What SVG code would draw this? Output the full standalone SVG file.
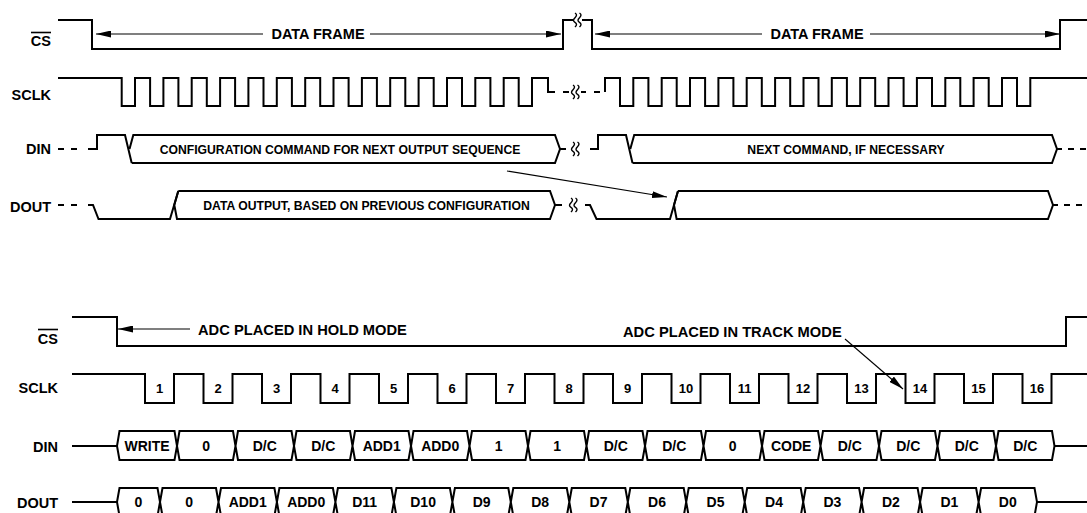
<svg xmlns="http://www.w3.org/2000/svg" xmlns:xlink="http://www.w3.org/1999/xlink" width="1087" height="513" viewBox="0 0 1087 513">
<style>
.sig{fill:none;stroke:#000;stroke-width:2;stroke-linejoin:miter;stroke-linecap:butt}
.box{fill:#fff;stroke:#000;stroke-width:2;stroke-linejoin:miter}
.arr{fill:none;stroke:#000;stroke-width:1.1}
.sq{fill:none;stroke:#000;stroke-width:1.4}
.ovl{stroke:#000;stroke-width:1.6}
text{font-family:"Liberation Sans",Arial,Helvetica,sans-serif;font-weight:bold;fill:#000}
.lbl{font-size:14.5px;text-anchor:end}
.hdr{font-size:14.5px}
.ttl{font-size:12.2px;text-anchor:middle}
.bt{font-size:14px;text-anchor:middle}
.num{font-size:13px;text-anchor:middle}
</style>
<defs>
<marker id="ah" markerWidth="15" markerHeight="7" refX="15" refY="3.5" orient="auto" markerUnits="userSpaceOnUse"><path d="M0,0 L15,3.5 L0,7 Z" fill="#000"/></marker>
<path id="sq" d="M-2,-7 q3,1.8 0,4.7 t0,4.7 t0,4.7 M2.5,-7 q3,1.8 0,4.7 t0,4.7 t0,4.7"/>
</defs>

<!-- TOP DIAGRAM -->
<g id="top-cs">
<text class="lbl" x="51" y="46">CS</text>
<line class="ovl" x1="31" y1="32.5" x2="51" y2="32.5"/>
<path class="sig" d="M58,20 H92 V49 H563 V20 H573 M582,20 H592 V49 H1060 V20 H1087"/>
<use href="#sq" class="sq" x="577" y="20"/>
<text class="hdr" x="318" y="39" text-anchor="middle">DATA FRAME</text>
<text class="hdr" x="817" y="39" text-anchor="middle">DATA FRAME</text>
</g>

<g id="top-sclk">
<text class="lbl" x="51" y="100">SCLK</text>
<path class="sig" d="M58,78 H121.7 V106 H135 V78 H150.1 V106 H163.4 V78 H178.4 V106 H191.7 V78 H206.8 V106 H220.1 V78 H235.1 V106 H248.4 V78 H263.5 V106 H276.8 V78 H291.9 V106 H305.2 V78 H320.2 V106 H333.5 V78 H348.6 V106 H361.9 V78 H376.9 V106 H390.2 V78 H405.3 V106 H418.6 V78 H433.7 V106 H447 V78 H462 V106 H475.3 V78 H490.4 V106 H503.7 V78 H518.7 V106 H532 V78 H548 V92 H555 M563,92 H569 M581,92 H586 M594,92 H600"/>
<use href="#sq" class="sq" x="575" y="92"/>
<path class="sig" d="M605,92 V78 H620 V106 H633.3 V78 H648.4 V106 H661.7 V78 H676.7 V106 H690 V78 H705.1 V106 H718.4 V78 H733.4 V106 H746.7 V78 H761.8 V106 H775.1 V78 H790.2 V106 H803.5 V78 H818.5 V106 H831.8 V78 H846.9 V106 H860.2 V78 H875.2 V106 H888.5 V78 H903.6 V106 H916.9 V78 H932 V106 H945.3 V78 H960.3 V106 H973.6 V78 H988.7 V106 H1002 V78 H1017 V106 H1030.3 V78 H1087"/>
</g>

<g id="top-din">
<text class="lbl" x="51" y="154">DIN</text>
<path class="sig" d="M58,149 H64 M71,149 H77 M88,149 H97 V135 H125 L131.7,163"/>
<path class="sig" d="M129.5,149 L133.3,135 H555 L560,149 L555,163 H131.7 M560,149 H566"/>
<text class="ttl" x="340" y="153.5">CONFIGURATION COMMAND FOR NEXT OUTPUT SEQUENCE</text>
<use href="#sq" class="sq" x="575" y="149"/>
<path class="sig" d="M590,149 H598 V135 H626 L632.5,163"/>
<path class="sig" d="M630.3,149 L634.2,135 H1052 L1057,149 L1052,163 H632.5 M1057,149 H1062 M1068,149 H1074 M1080,149 H1086"/>
<text class="ttl" x="846" y="153.5">NEXT COMMAND, IF NECESSARY</text>
</g>

<g id="top-dout">
<text class="lbl" x="51" y="211.5">DOUT</text>
<path class="sig" d="M58,205 H64 M71,205 H77 M88,205 H93 L98.5,219 H170 L178.3,191"/>
<path class="sig" d="M178.3,191 L174.3,205 L177,219 H550 L555,205 L550,191 H178.3 M555,205 H562"/>
<text class="ttl" x="366.5" y="209.5">DATA OUTPUT, BASED ON PREVIOUS CONFIGURATION</text>
<use href="#sq" class="sq" x="573" y="205"/>
<path class="sig" d="M585,205 H590 L596.5,219 H670 L678,191"/>
<path class="sig" d="M678,191 L674,205 L676.6,219 H1048 L1053,205 L1048,191 H678 M1053,205 H1058 M1064,205 H1070 M1076,205 H1082"/>
</g>

<!-- BOTTOM DIAGRAM -->
<g id="bot-cs">
<text class="lbl" x="58" y="344">CS</text>
<line class="ovl" x1="38" y1="329.5" x2="58" y2="329.5"/>
<path class="sig" d="M72,317 H117 V346 H1066 V317 H1087"/>
<text class="hdr" x="198" y="334.5" style="font-size:14.7px">ADC PLACED IN HOLD MODE</text>
<text class="hdr" x="623" y="337" style="font-size:14.7px">ADC PLACED IN TRACK MODE</text>
</g>

<g id="bot-sclk">
<text class="lbl" x="58" y="393">SCLK</text>
<path class="sig" d="M72,374 H145 V403 H174 V374 H203.5 V403 H232.5 V374 H262 V403 H291 V374 H320.5 V403 H349.5 V374 H379 V403 H408 V374 H437.5 V403 H466.5 V374 H496 V403 H525 V374 H554.5 V403 H583.5 V374 H613 V403 H642 V374 H671.5 V403 H700.5 V374 H730 V403 H759 V374 H788.5 V403 H817.5 V374 H847 V403 H876 V374 H905.5 V403 H934.5 V374 H964 V403 H993 V374 H1022.5 V403 H1051.5 V374 H1087"/>
<text class="num" x="159.5" y="393">1</text>
<text class="num" x="218" y="393">2</text>
<text class="num" x="276.5" y="393">3</text>
<text class="num" x="335" y="393">4</text>
<text class="num" x="393.5" y="393">5</text>
<text class="num" x="452" y="393">6</text>
<text class="num" x="510.5" y="393">7</text>
<text class="num" x="569" y="393">8</text>
<text class="num" x="627.5" y="393">9</text>
<text class="num" x="686" y="393">10</text>
<text class="num" x="744.5" y="393">11</text>
<text class="num" x="803" y="393">12</text>
<text class="num" x="861.5" y="393">13</text>
<text class="num" x="920" y="393">14</text>
<text class="num" x="978.5" y="393">15</text>
<text class="num" x="1037" y="393">16</text>
</g>

<g id="bot-din">
<text class="lbl" x="58" y="451.5">DIN</text>
<path class="sig" d="M72,446 H117 M1054.5,446 H1087"/>
<path class="sig" d="M117,446 L119.5,431 H174.5 L177,446 L174.5,460 H119.5 Z M177,446 L179.5,431 H233 L235.5,446 L233,460 H179.5 Z M235.5,446 L238,431 H291.5 L294,446 L291.5,460 H238 Z M294,446 L296.5,431 H350 L352.5,446 L350,460 H296.5 Z M352.5,446 L355,431 H408.5 L411,446 L408.5,460 H355 Z M411,446 L413.5,431 H467 L469.5,446 L467,460 H413.5 Z M469.5,446 L472,431 H525.5 L528,446 L525.5,460 H472 Z M528,446 L530.5,431 H584 L586.5,446 L584,460 H530.5 Z M586.5,446 L589,431 H642.5 L645,446 L642.5,460 H589 Z M645,446 L647.5,431 H701 L703.5,446 L701,460 H647.5 Z M703.5,446 L706,431 H759.5 L762,446 L759.5,460 H706 Z M762,446 L764.5,431 H818 L820.5,446 L818,460 H764.5 Z M820.5,446 L823,431 H876.5 L879,446 L876.5,460 H823 Z M879,446 L881.5,431 H935 L937.5,446 L935,460 H881.5 Z M937.5,446 L940,431 H993.5 L996,446 L993.5,460 H940 Z M996,446 L998.5,431 H1052 L1054.5,446 L1052,460 H998.5 Z"/>
<text class="bt" x="147" y="451">WRITE</text>
<text class="bt" x="206.2" y="451">0</text>
<text class="bt" x="264.7" y="451">D/C</text>
<text class="bt" x="323.2" y="451">D/C</text>
<text class="bt" x="381.7" y="451">ADD1</text>
<text class="bt" x="440.2" y="451">ADD0</text>
<text class="bt" x="498.7" y="451">1</text>
<text class="bt" x="557.2" y="451">1</text>
<text class="bt" x="615.7" y="451">D/C</text>
<text class="bt" x="674.2" y="451">D/C</text>
<text class="bt" x="732.7" y="451">0</text>
<text class="bt" x="791.2" y="451">CODE</text>
<text class="bt" x="849.7" y="451">D/C</text>
<text class="bt" x="908.2" y="451">D/C</text>
<text class="bt" x="966.7" y="451">D/C</text>
<text class="bt" x="1025.2" y="451">D/C</text>
</g>

<g id="bot-dout">
<text class="lbl" x="58" y="508">DOUT</text>
<path class="sig" d="M72,502 H117 M1037,502 H1087"/>
<path class="sig" d="M117,502 L119.5,488 H157.5 L160,502 L157.5,516 H119.5 Z M160,502 L162.5,488 H216 L218.5,502 L216,516 H162.5 Z M218.5,502 L221,488 H274.4 L276.9,502 L274.4,516 H221 Z M276.9,502 L279.4,488 H332.9 L335.4,502 L332.9,516 H279.4 Z M335.4,502 L337.9,488 H391.4 L393.9,502 L391.4,516 H337.9 Z M393.9,502 L396.4,488 H449.9 L452.4,502 L449.9,516 H396.4 Z M452.4,502 L454.9,488 H508.3 L510.8,502 L508.3,516 H454.9 Z M510.8,502 L513.3,488 H566.8 L569.3,502 L566.8,516 H513.3 Z M569.3,502 L571.8,488 H625.3 L627.8,502 L625.3,516 H571.8 Z M627.8,502 L630.3,488 H683.7 L686.2,502 L683.7,516 H630.3 Z M686.2,502 L688.7,488 H742.2 L744.7,502 L742.2,516 H688.7 Z M744.7,502 L747.2,488 H800.7 L803.2,502 L800.7,516 H747.2 Z M803.2,502 L805.7,488 H859.1 L861.6,502 L859.1,516 H805.7 Z M861.6,502 L864.1,488 H917.6 L920.1,502 L917.6,516 H864.1 Z M920.1,502 L922.6,488 H976.1 L978.6,502 L976.1,516 H922.6 Z M978.6,502 L981.1,488 H1034.5 L1037,502 L1034.5,516 H981.1 Z"/>
<text class="bt" x="138.5" y="507">0</text>
<text class="bt" x="189.2" y="507">0</text>
<text class="bt" x="247.7" y="507">ADD1</text>
<text class="bt" x="306.2" y="507">ADD0</text>
<text class="bt" x="364.6" y="507">D11</text>
<text class="bt" x="423.1" y="507">D10</text>
<text class="bt" x="481.6" y="507">D9</text>
<text class="bt" x="540.1" y="507">D8</text>
<text class="bt" x="598.5" y="507">D7</text>
<text class="bt" x="657" y="507">D6</text>
<text class="bt" x="715.5" y="507">D5</text>
<text class="bt" x="774" y="507">D4</text>
<text class="bt" x="832.4" y="507">D3</text>
<text class="bt" x="890.9" y="507">D2</text>
<text class="bt" x="949.4" y="507">D1</text>
<text class="bt" x="1007.8" y="507">D0</text>
</g>

<g id="connectors">
<line class="arr" x1="263" y1="34" x2="96" y2="34" marker-end="url(#ah)"/>
<line class="arr" x1="370" y1="34" x2="561" y2="34" marker-end="url(#ah)"/>
<line class="arr" x1="762" y1="34" x2="595" y2="34" marker-end="url(#ah)"/>
<line class="arr" x1="870" y1="34" x2="1060" y2="34" marker-end="url(#ah)"/>
<line class="arr" x1="507" y1="171" x2="667" y2="197" marker-end="url(#ah)"/>
<line class="arr" x1="190" y1="329" x2="118" y2="329" marker-end="url(#ah)"/>
<line class="arr" x1="845" y1="339" x2="903" y2="389" marker-end="url(#ah)"/>
</g>
</svg>
